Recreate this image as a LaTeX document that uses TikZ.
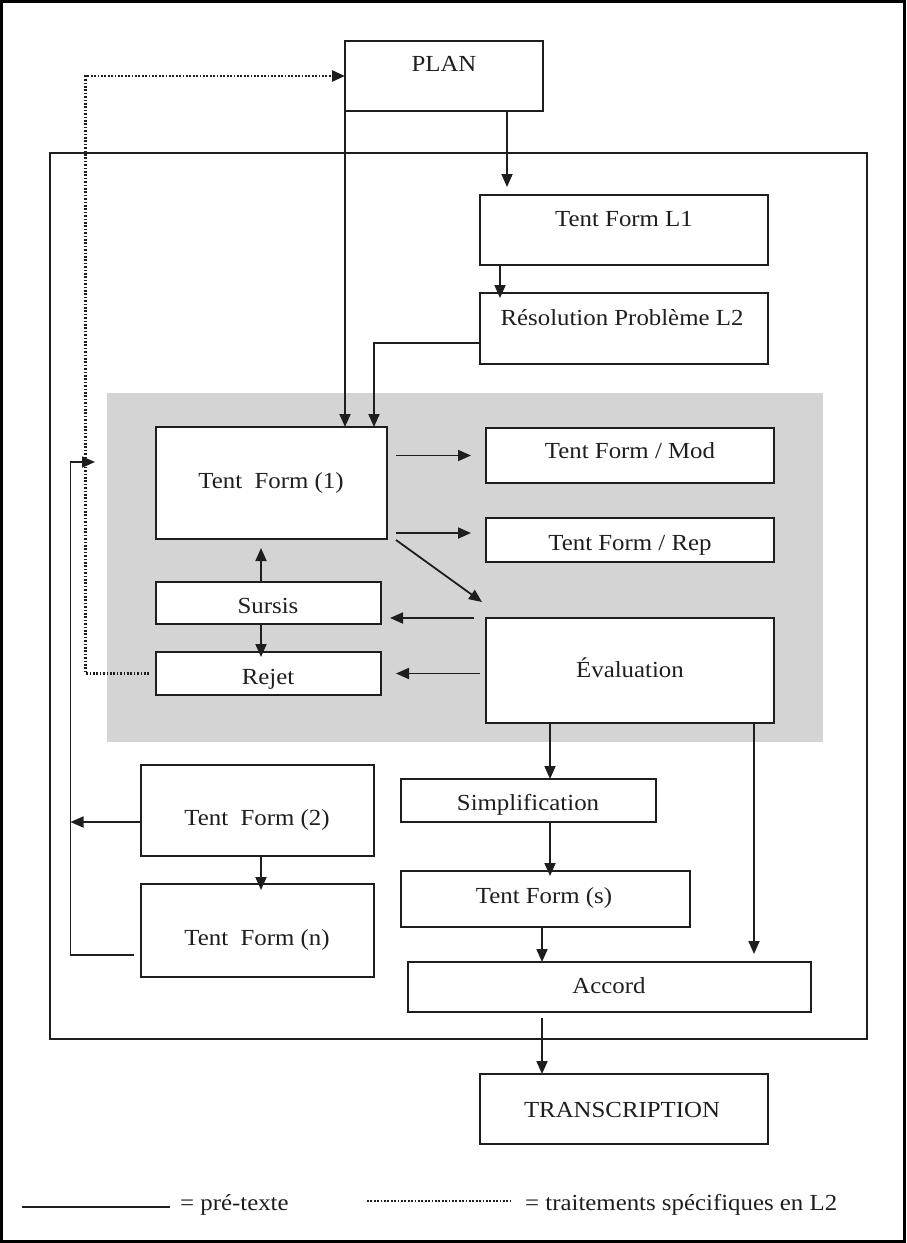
\documentclass[tikz,border=0pt]{standalone}
\usepackage{fontspec}
\setmainfont[FakeStretch=1.08]{Liberation Serif}
\usetikzlibrary{arrows.meta,calc}
\definecolor{bggray}{RGB}{212,212,212}
\definecolor{ink}{RGB}{30,30,30}
\tikzset{
  boxn/.style={draw=ink, line width=2pt, fill=white, inner sep=0pt, outer sep=0pt},
  txt/.style={anchor=base, inner sep=0pt, text=ink, font=\fontsize{23pt}{27pt}\selectfont},
  conn/.style={draw=ink, line width=1.8pt},
  arr/.style={conn, -{Triangle[length=13pt,width=11pt]}},
  dotline/.style={draw=ink, line width=2.6pt, dash pattern=on 1.7pt off 1.7pt},
}
\begin{document}
\begin{tikzpicture}[x=1pt,y=-1pt]
\useasboundingbox (0,0) rectangle (906,1243);
\draw[black, line width=3pt] (1.5,1.5) rectangle (904.5,1241.5);
% gray region and frame
\fill[bggray] (107,393) rectangle (823,742);
\draw[ink, line width=2pt] (50,153) rectangle (867,1039);
% boxes
\node[boxn, minimum width=198pt, minimum height=70pt] (plan) at (444,76) {};
\node[boxn, minimum width=288pt, minimum height=70pt] (l1) at (624,230) {};
\node[boxn, minimum width=288pt, minimum height=71pt] (res) at (624,328.5) {};
\node[boxn, minimum width=231pt, minimum height=112pt] (tf1) at (271.5,483) {};
\node[boxn, minimum width=288pt, minimum height=55pt] (mod) at (630,455.5) {};
\node[boxn, minimum width=288pt, minimum height=44pt] (rep) at (630,540) {};
\node[boxn, minimum width=225pt, minimum height=42pt] (sursis) at (268.5,603) {};
\node[boxn, minimum width=225pt, minimum height=43pt] (rejet) at (268.5,673.5) {};
\node[boxn, minimum width=288pt, minimum height=105pt] (eval) at (630,670.5) {};
\node[boxn, minimum width=255pt, minimum height=43pt] (simp) at (528.5,800.5) {};
\node[boxn, minimum width=233pt, minimum height=91pt] (tf2) at (257.5,810.5) {};
\node[boxn, minimum width=233pt, minimum height=93pt] (tfn) at (257.5,930.5) {};
\node[boxn, minimum width=289pt, minimum height=56pt] (tfs) at (545.5,899) {};
\node[boxn, minimum width=403pt, minimum height=50pt] (accord) at (609.5,987) {};
\node[boxn, minimum width=288pt, minimum height=70pt] (trans) at (624,1109) {};
% texts
\node[txt] (planT) at (444,71) {PLAN};
\node[txt] (l1T) at (624,226) {Tent Form L1};
\node[txt] (resT) at (622,325) {Résolution Problème L2};
\node[txt] (tf1T) at (271,488) {Tent\ \ Form (1)};
\node[txt] (modT) at (630,458) {Tent Form / Mod};
\node[txt] (repT) at (630,550) {Tent Form / Rep};
\node[txt] (sursisT) at (268,613) {Sursis};
\node[txt] (rejetT) at (268,684) {Rejet};
\node[txt] (evalT) at (630,677) {Évaluation};
\node[txt] (simpT) at (528,810) {Simplification};
\node[txt] (tf2T) at (257,825) {Tent\ \ Form (2)};
\node[txt] (tfnT) at (257,945) {Tent\ \ Form (n)};
\node[txt] (tfsT) at (544,903) {Tent Form (s)};
\node[txt] (accordT) at (609,993) {Accord};
\node[txt] (transT) at (622,1117) {TRANSCRIPTION};
% connectors
\coordinate (dl) at (85.5,76);
\draw[dotline, -{Triangle[length=13pt,width=11pt]}] ($(rejet.west)+(-7,0)$) -| (dl) -- (plan.west);
\draw[arr] (plan.south west) -- (plan.south west |- tf1.north);
\draw[arr] ($(plan.south west)+(162,0)$) -- ($(l1.north west)+(27,-8)$);
\draw[arr] ($(l1.south west)+(20,0)$) -- ($(res.north west)+(20,5)$);
\draw[arr] ($(res.west)+(0,14.5)$) -| ($(tf1.north west)+(218,0)$);
\draw[arr] ($(tf1.east |- mod.west)+(9,0)$) -- ($(mod.west)+(-15,0)$);
\draw[arr] ($(tf1.south east)+(9,-6)$) -- ($(rep.west |- tf1.south east)+(-15,-6)$);
\draw[arr] ($(tf1.south east)+(9,1)$) -- ($(eval.north west)+(-4,-16)$);
\draw[arr] ($(eval.north west)+(-12,0)$) -- ($(sursis.east |- eval.north)+(9,0)$);
\draw[arr] ($(eval.west |- rejet.east)+(-6,0)$) -- ($(rejet.east)+(15,0)$);
\draw[arr] ($(sursis.north west)+(105,0)$) -- ($(tf1.south west)+(105,9)$);
\draw[arr] ($(sursis.south west)+(105,0)$) -- ($(rejet.north west)+(105,5)$);
\draw[arr] ($(eval.south west)+(64,0)$) -- ($(simp.north west)+(149,0)$);
\draw[arr] ($(eval.south west)+(268,0)$) -- ($(accord.north west)+(346,-8)$);
\draw[arr] ($(simp.south west)+(149,0)$) -- ($(tfs.north west)+(149,5)$);
\draw[arr] ($(tfs.south west)+(141,0)$) -- ($(accord.north west)+(134,0)$);
\draw[arr] ($(accord.south west)+(134,6)$) -- ($(trans.north west)+(62,0)$);
\draw[arr] ($(tf2.west)+(0,11.5)$) -- ($(tf2.west)+(-70.5,11.5)$);
\draw[arr] ($(tf2.south west)+(120,0)$) -- ($(tfn.north west)+(120,6)$);
\coordinate (loopc) at (70.5,462);
\coordinate (loopt) at (95,462);
\draw[arr] ($(tfn.west)+(-7,24.5)$) -| (loopc) -- (loopt);
% legend
\coordinate (la) at (22,1207);
\coordinate (lb) at (170,1207);
\draw[conn, line width=2.2pt] (la) -- (lb);
\node[txt, anchor=base west] (legA) at (180,1210) {= pré-texte};
\coordinate (lc) at (367,1201);
\coordinate (ld) at (511,1201);
\draw[dotline] (lc) -- (ld);
\node[txt, anchor=base west] (legB) at (525,1210) {= traitements spécifiques en L2};
\end{tikzpicture}
\end{document}
